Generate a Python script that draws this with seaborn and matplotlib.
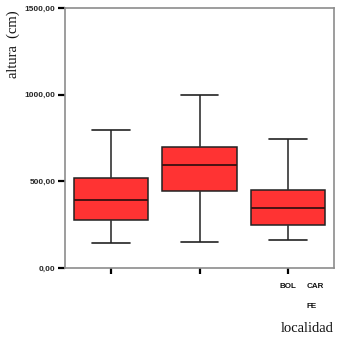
import numpy as np
import pandas as pd
import matplotlib
matplotlib.use("Agg")
import matplotlib.pyplot as plt
import matplotlib.transforms as mtransforms
import seaborn as sns

# ---- data (five-number summaries) ----
localidades = ["BOL", "CAR", "FE"]
bol_vals = [142, 277, 392, 518, 794]
car_vals = [152, 444, 596, 696, 1000]
fe_vals = [163, 246, 346, 450, 746]
y_ticks = [0, 500, 1000, 1500]
y_tick_labels = ["0,00", "500,00", "1000,00", "1500,00"]

df = pd.DataFrame({
    "localidad": ["BOL"] * len(bol_vals) + ["CAR"] * len(car_vals) + ["FE"] * len(fe_vals),
    "altura": bol_vals + car_vals + fe_vals,
})

sns.set_theme(style="white")
fig = plt.figure(figsize=(3.44, 3.42), dpi=100)
ax = fig.add_axes([65 / 344, 1 - 268 / 342, 269 / 344, 260 / 342])

sns.boxplot(
    data=df, x="localidad", y="altura", order=localidades, ax=ax,
    color="#FF3333", saturation=1, width=0.84, whis=np.inf,
    linecolor="#222222", linewidth=1.1,
    boxprops=dict(facecolor="#FF3333", edgecolor="#222222"),
    medianprops=dict(color="#3a1010", linewidth=1.3),
    whiskerprops=dict(color="#333333", linewidth=1.2),
    capprops=dict(color="#222222", linewidth=1.2),
)

ax.set_ylim(0, 1500)
ax.set_xlim(-0.52, 2.52)
ax.set_yticks(y_ticks)
ax.set_yticklabels(y_tick_labels, fontfamily="Liberation Sans", fontweight="bold", fontsize=6)
ax.set_xticks(range(len(localidades)))
ax.set_xticklabels([""] * len(localidades))
ax.tick_params(axis="y", direction="out", length=5, width=1.6, color="black", pad=2, left=True)
ax.tick_params(axis="x", direction="out", length=4, width=1.6, color="black", bottom=True)

for s in ax.spines.values():
    s.set_color("#8c8c8c")
    s.set_linewidth(1.2)

ax.set_ylabel("")
ax.set_xlabel("")
fig.text(13 / 344, 1 - 44 / 342, "altura  (cm)", fontfamily="Liberation Serif",
         fontsize=10.5, rotation=90, ha="center", va="center", color="#111111")
fig.text(307 / 344, 1 - 329 / 342, "localidad", fontfamily="Liberation Serif",
         fontsize=10.5, ha="center", va="center", color="#111111")

# category labels stacked near last tick (as in the reference)
trans = mtransforms.blended_transform_factory(ax.transData, fig.transFigure)
last = len(localidades) - 1
lab_font = dict(fontfamily="Liberation Sans", fontweight="bold", fontsize=5.8, color="#111111")
ax.text(last, 1 - 286 / 342, localidades[0], transform=trans, ha="center", va="center", **lab_font)
ax.text(last + 0.205, 1 - 286 / 342, localidades[1], transform=trans, ha="left", va="center", **lab_font)
ax.text(last + 0.205, 1 - 306 / 342, localidades[2], transform=trans, ha="left", va="center", **lab_font)

fig.savefig("out.png", dpi=100, facecolor="white")
